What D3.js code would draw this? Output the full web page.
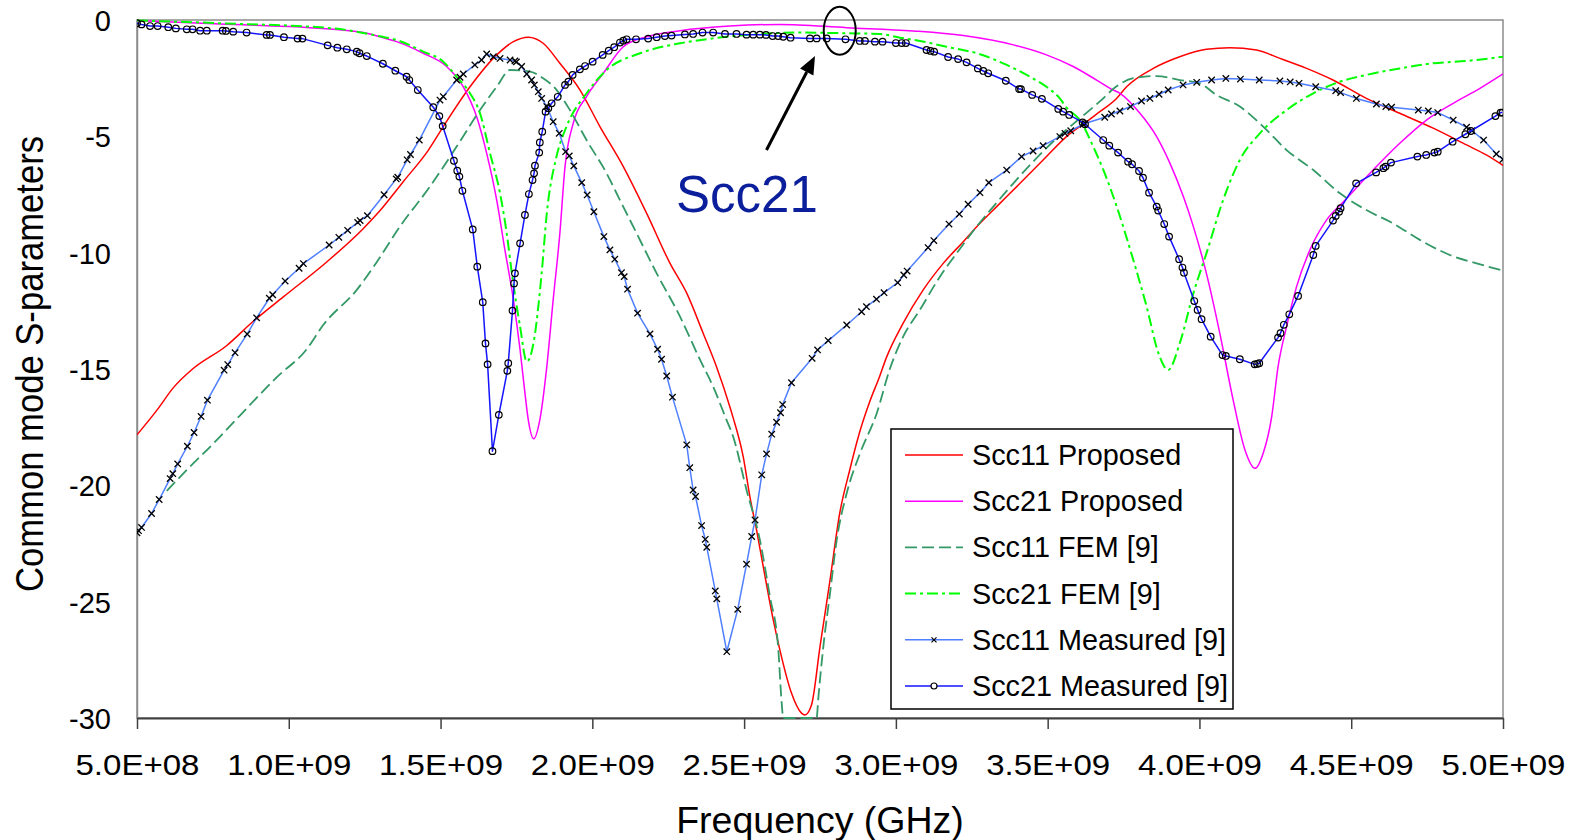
<!DOCTYPE html>
<html>
<head>
<meta charset="utf-8">
<script src="https://cdn.jsdelivr.net/npm/d3@7"></script>
<style>
  html, body { margin: 0; padding: 0; background: #ffffff; }
  svg { display: block; font-family: "Liberation Sans", Arial, sans-serif; }
</style>
</head>
<body>
<svg id="chart" width="1576" height="840"></svg>
<script>
// Frequency axis in GHz, values in dB
const xTickValues = [0.5, 1.0, 1.5, 2.0, 2.5, 3.0, 3.5, 4.0, 4.5, 5.0];
const xTickLabels = ["5.0E+08", "1.0E+09", "1.5E+09", "2.0E+09", "2.5E+09", "3.0E+09", "3.5E+09", "4.0E+09", "4.5E+09", "5.0E+09"];
const yTickValues = [0, -5, -10, -15, -20, -25, -30];
const yTickLabels = ["0", "-5", "-10", "-15", "-20", "-25", "-30"];

// Scc11 Proposed
const s11PropF = [0.5, 0.565, 0.62, 0.685, 0.795, 0.883, 0.982, 1.125, 1.245, 1.30, 1.377, 1.46, 1.509, 1.597, 1.685, 1.74, 1.789, 1.838, 1.893, 1.959, 2.025, 2.102, 2.179, 2.256, 2.311, 2.365, 2.409, 2.453, 2.464, 2.497, 2.519, 2.541, 2.563, 2.596, 2.623, 2.656, 2.689, 2.70, 2.722, 2.75, 2.783, 2.815, 2.848, 2.881, 2.914, 2.947, 2.969, 3.024, 3.09, 3.156, 3.222, 3.277, 3.332, 3.409, 3.485, 3.562, 3.628, 3.672, 3.727, 3.76, 3.848, 3.935, 4.023, 4.10, 4.188, 4.265, 4.353, 4.44, 4.55, 4.66, 4.77, 4.88, 4.945, 5.0];
const s11PropV = [-17.83, -16.78, -15.8, -14.98, -14.0, -12.95, -11.9, -10.4, -8.97, -8.2, -6.95, -5.59, -4.58, -2.87, -1.5, -0.93, -0.74, -1.0, -1.86, -3.0, -4.58, -6.3, -8.31, -10.46, -11.74, -13.46, -14.9, -16.62, -17.1, -18.77, -20.49, -21.92, -23.49, -25.78, -27.36, -28.93, -29.79, -29.87, -29.44, -26.93, -24.07, -21.2, -19.34, -17.7, -16.4, -15.3, -14.5, -13.03, -11.6, -10.46, -9.53, -8.74, -8.02, -7.02, -6.02, -5.01, -4.37, -3.94, -3.37, -2.87, -2.08, -1.58, -1.26, -1.19, -1.29, -1.65, -2.08, -2.58, -3.37, -4.01, -4.65, -5.37, -5.8, -6.25];

// Scc21 Proposed
const s21PropF = [0.5, 0.774, 1.146, 1.257, 1.30, 1.355, 1.443, 1.52, 1.575, 1.619, 1.652, 1.685, 1.712, 1.74, 1.762, 1.778, 1.789, 1.807, 1.827, 1.85, 1.871, 1.893, 1.91, 1.937, 1.981, 2.036, 2.102, 2.179, 2.289, 2.453, 2.618, 2.838, 3.057, 3.222, 3.387, 3.496, 3.584, 3.661, 3.716, 3.738, 3.804, 3.859, 3.903, 3.947, 3.98, 4.023, 4.067, 4.111, 4.15, 4.183, 4.21, 4.238, 4.259, 4.287, 4.32, 4.364, 4.419, 4.48, 4.572, 4.66, 4.748, 4.836, 4.924, 5.0];
const s21PropV = [-0.03, -0.17, -0.4, -0.57, -0.72, -0.93, -1.43, -2.0, -2.87, -4.16, -5.73, -7.74, -9.88, -12.03, -14.18, -16.04, -17.19, -18.0, -17.19, -14.9, -12.03, -9.17, -6.3, -4.44, -3.29, -2.29, -1.15, -0.72, -0.46, -0.26, -0.19, -0.33, -0.47, -0.67, -1.07, -1.5, -2.0, -2.58, -3.01, -3.15, -4.01, -5.01, -6.16, -7.59, -8.88, -10.89, -13.46, -16.33, -18.48, -19.27, -18.62, -17.05, -14.9, -13.18, -11.46, -9.88, -8.59, -7.74, -6.45, -5.3, -4.3, -3.58, -2.94, -2.32];

// Scc11 FEM [9]
const s11FemF = [0.598, 0.664, 0.751, 0.839, 0.96, 1.059, 1.114, 1.224, 1.29, 1.366, 1.465, 1.553, 1.63, 1.685, 1.729, 1.795, 1.838, 1.882, 1.926, 1.981, 2.047, 2.091, 2.146, 2.212, 2.289, 2.355, 2.398, 2.442, 2.464, 2.508, 2.552, 2.585, 2.612, 2.623, 2.629, 2.739, 2.744, 2.761, 2.783, 2.805, 2.838, 2.882, 2.937, 2.98, 3.024, 3.079, 3.145, 3.2, 3.266, 3.321, 3.387, 3.452, 3.53, 3.606, 3.672, 3.727, 3.782, 3.859, 3.935, 4.001, 4.056, 4.133, 4.21, 4.287, 4.375, 4.463, 4.55, 4.638, 4.726, 4.825, 4.913, 5.0];
const s11FemV = [-20.24, -19.34, -18.21, -17.0, -15.36, -14.15, -13.1, -11.6, -10.4, -8.88, -7.16, -5.44, -3.87, -2.87, -2.15, -2.22, -2.5, -3.0, -3.87, -5.16, -6.59, -7.74, -9.17, -10.89, -12.75, -14.61, -15.76, -17.19, -17.91, -20.2, -22.35, -24.78, -26.93, -29.22, -30, -30, -29.22, -26.93, -24.64, -22.35, -20.34, -18.62, -16.9, -15.0, -13.61, -12.46, -11.03, -10.03, -8.88, -8.02, -7.02, -6.09, -5.08, -4.23, -3.5, -2.85, -2.5, -2.41, -2.58, -2.72, -3.22, -3.72, -4.58, -5.59, -6.45, -7.45, -8.17, -8.74, -9.45, -10.1, -10.46, -10.77];

// Scc21 FEM [9]
const s21FemF = [0.5, 0.774, 1.146, 1.30, 1.355, 1.443, 1.509, 1.553, 1.597, 1.63, 1.663, 1.696, 1.718, 1.735, 1.762, 1.784, 1.806, 1.833, 1.85, 1.882, 1.915, 1.981, 2.047, 2.157, 2.289, 2.398, 2.508, 2.684, 2.838, 2.947, 3.013, 3.079, 3.167, 3.277, 3.365, 3.442, 3.496, 3.54, 3.564, 3.606, 3.65, 3.688, 3.727, 3.782, 3.826, 3.865, 3.897, 3.935, 3.98, 4.023, 4.078, 4.133, 4.199, 4.287, 4.375, 4.463, 4.55, 4.66, 4.77, 4.88, 5.0];
const s21FemV = [-0.02, -0.14, -0.36, -0.7, -0.86, -1.36, -1.79, -2.44, -3.15, -4.01, -5.73, -7.45, -9.17, -10.89, -13.18, -14.68, -13.9, -10.89, -8.31, -5.87, -4.58, -3.15, -2.15, -1.43, -1.0, -0.79, -0.64, -0.54, -0.57, -0.6, -0.76, -0.9, -1.15, -1.47, -1.93, -2.44, -2.87, -3.37, -3.79, -4.3, -5.44, -6.59, -8.0, -10.31, -12.32, -14.32, -15.04, -13.9, -11.74, -10.03, -7.74, -6.02, -4.87, -3.87, -3.15, -2.65, -2.36, -2.08, -1.86, -1.76, -1.58];

// Scc11 Measured [9]
const s11MeasF = [0.5, 0.505, 0.515, 0.548, 0.573, 0.609, 0.618, 0.634, 0.666, 0.688, 0.711, 0.732, 0.787, 0.799, 0.823, 0.863, 0.894, 0.936, 0.947, 0.988, 1.034, 1.048, 1.133, 1.165, 1.194, 1.227, 1.235, 1.259, 1.314, 1.354, 1.359, 1.39, 1.401, 1.43, 1.498, 1.509, 1.553, 1.564, 1.575, 1.613, 1.635, 1.652, 1.674, 1.696, 1.729, 1.745, 1.75, 1.767, 1.784, 1.8, 1.809, 1.822, 1.833, 1.85, 1.871, 1.891, 1.912, 1.924, 1.939, 1.965, 1.983, 2.005, 2.038, 2.058, 2.074, 2.096, 2.105, 2.116, 2.149, 2.19, 2.215, 2.228, 2.245, 2.264, 2.311, 2.321, 2.332, 2.34, 2.36, 2.372, 2.377, 2.405, 2.41, 2.443, 2.479, 2.508, 2.525, 2.536, 2.558, 2.574, 2.591, 2.607, 2.62, 2.627, 2.656, 2.724, 2.742, 2.777, 2.838, 2.887, 2.903, 2.936, 2.961, 3.006, 3.026, 3.037, 3.106, 3.125, 3.175, 3.209, 3.238, 3.277, 3.306, 3.365, 3.414, 3.452, 3.485, 3.54, 3.557, 3.576, 3.617, 3.623, 3.688, 3.71, 3.738, 3.773, 3.809, 3.837, 3.867, 3.897, 3.946, 3.991, 4.04, 4.087, 4.135, 4.197, 4.265, 4.299, 4.328, 4.383, 4.449, 4.465, 4.517, 4.583, 4.614, 4.633, 4.721, 4.754, 4.785, 4.836, 4.88, 4.898, 4.936, 4.978, 5.0];
const s11MeasV = [-22.04, -21.95, -21.81, -21.21, -20.61, -19.71, -19.5, -19.08, -18.32, -17.73, -17.04, -16.34, -15.05, -14.81, -14.3, -13.5, -12.8, -11.96, -11.81, -11.22, -10.67, -10.47, -9.67, -9.34, -9.04, -8.7, -8.62, -8.41, -7.51, -6.83, -6.76, -6.01, -5.78, -5.16, -3.44, -3.29, -2.58, -2.46, -2.32, -1.93, -1.72, -1.46, -1.58, -1.65, -1.72, -1.76, -1.8, -2.0, -2.32, -2.58, -2.79, -3.08, -3.37, -3.72, -4.37, -4.87, -5.66, -5.84, -6.27, -6.99, -7.52, -8.24, -9.31, -9.88, -10.28, -10.86, -11.03, -11.57, -12.6, -13.49, -14.15, -14.58, -15.3, -16.21, -18.26, -19.24, -20.2, -20.48, -21.73, -22.32, -22.66, -24.54, -24.88, -27.15, -25.33, -23.39, -22.2, -21.49, -19.55, -18.65, -17.8, -17.29, -16.88, -16.53, -15.59, -14.54, -14.18, -13.78, -13.11, -12.54, -12.32, -12.0, -11.72, -11.29, -10.96, -10.79, -9.78, -9.48, -8.77, -8.34, -7.92, -7.42, -6.99, -6.45, -5.87, -5.63, -5.4, -5.01, -4.87, -4.76, -4.48, -4.45, -4.18, -4.04, -3.91, -3.72, -3.48, -3.37, -3.19, -3.01, -2.79, -2.68, -2.58, -2.51, -2.54, -2.58, -2.62, -2.66, -2.72, -2.87, -3.04, -3.12, -3.37, -3.61, -3.72, -3.75, -3.87, -3.91, -3.98, -4.3, -4.61, -4.76, -5.16, -5.76, -5.99];

// Scc21 Measured [9]
const s21MeasF = [0.5, 0.515, 0.543, 0.568, 0.603, 0.628, 0.664, 0.683, 0.708, 0.73, 0.782, 0.793, 0.817, 0.861, 0.927, 0.938, 0.984, 1.029, 1.045, 1.128, 1.16, 1.191, 1.224, 1.233, 1.257, 1.31, 1.351, 1.388, 1.397, 1.425, 1.476, 1.496, 1.507, 1.544, 1.555, 1.562, 1.572, 1.606, 1.621, 1.639, 1.648, 1.655, 1.671, 1.692, 1.72, 1.723, 1.737, 1.742, 1.745, 1.762, 1.778, 1.791, 1.803, 1.808, 1.811, 1.825, 1.827, 1.835, 1.846, 1.855, 1.866, 1.886, 1.91, 1.921, 1.935, 1.959, 1.976, 2.001, 2.034, 2.054, 2.072, 2.091, 2.102, 2.113, 2.144, 2.184, 2.212, 2.239, 2.261, 2.305, 2.332, 2.363, 2.398, 2.437, 2.475, 2.508, 2.53, 2.552, 2.572, 2.594, 2.612, 2.629, 2.653, 2.717, 2.739, 2.772, 2.834, 2.881, 2.898, 2.931, 2.956, 3.0, 3.019, 3.033, 3.101, 3.114, 3.126, 3.172, 3.205, 3.233, 3.27, 3.288, 3.304, 3.362, 3.406, 3.412, 3.449, 3.481, 3.535, 3.551, 3.571, 3.615, 3.623, 3.683, 3.703, 3.732, 3.765, 3.778, 3.801, 3.814, 3.834, 3.859, 3.864, 3.884, 3.9, 3.933, 3.944, 3.949, 3.983, 3.994, 4.007, 4.037, 4.076, 4.087, 4.133, 4.182, 4.19, 4.197, 4.259, 4.267, 4.278, 4.296, 4.325, 4.375, 4.383, 4.44, 4.449, 4.46, 4.465, 4.516, 4.582, 4.606, 4.613, 4.631, 4.718, 4.747, 4.774, 4.785, 4.834, 4.876, 4.894, 4.975, 4.992, 4.998];
const s21MeasV = [-0.14, -0.19, -0.26, -0.26, -0.31, -0.36, -0.4, -0.4, -0.46, -0.46, -0.46, -0.47, -0.5, -0.54, -0.64, -0.64, -0.74, -0.8, -0.8, -1.09, -1.19, -1.26, -1.36, -1.43, -1.55, -1.88, -2.18, -2.44, -2.58, -3.01, -3.75, -4.13, -4.56, -6.05, -6.48, -6.73, -7.34, -9.0, -10.6, -12.13, -13.9, -14.8, -18.53, -16.97, -15.08, -14.75, -12.49, -11.32, -10.89, -9.6, -8.38, -7.48, -6.88, -6.59, -6.26, -5.7, -5.26, -4.8, -3.94, -3.79, -3.58, -3.3, -2.79, -2.65, -2.36, -2.12, -1.98, -1.79, -1.5, -1.32, -1.17, -0.97, -0.89, -0.83, -0.83, -0.8, -0.74, -0.69, -0.67, -0.62, -0.6, -0.54, -0.54, -0.6, -0.6, -0.63, -0.63, -0.63, -0.64, -0.69, -0.69, -0.72, -0.76, -0.79, -0.79, -0.79, -0.83, -0.9, -0.9, -0.93, -0.93, -0.99, -0.99, -0.99, -1.29, -1.33, -1.36, -1.59, -1.68, -1.82, -2.08, -2.19, -2.29, -2.61, -2.97, -2.97, -3.22, -3.39, -3.82, -3.94, -4.08, -4.4, -4.48, -5.16, -5.4, -5.7, -6.09, -6.2, -6.49, -6.78, -7.42, -8.02, -8.19, -8.77, -9.31, -10.28, -10.64, -10.86, -12.08, -12.46, -12.86, -13.61, -14.4, -14.44, -14.58, -14.8, -14.78, -14.75, -13.65, -13.46, -13.1, -12.65, -11.86, -10.1, -9.71, -8.62, -8.42, -8.24, -8.09, -7.02, -6.55, -6.37, -6.3, -6.13, -5.87, -5.8, -5.7, -5.66, -5.23, -4.91, -4.77, -4.13, -3.98, -3.98];

const seriesNames = ["Scc11 Proposed", "Scc21 Proposed", "Scc11 FEM [9]", "Scc21 FEM [9]", "Scc11 Measured [9]", "Scc21 Measured [9]"];

const series = [
  { name: seriesNames[0], f: s11PropF, v: s11PropV, color: "#ff0000", dash: null, width: 1.5, curve: d3.curveMonotoneX, marker: null },
  { name: seriesNames[1], f: s21PropF, v: s21PropV, color: "#ff00ff", dash: null, width: 1.5, curve: d3.curveMonotoneX, marker: null },
  { name: seriesNames[2], f: s11FemF, v: s11FemV, color: "#339966", dash: "12,5", width: 1.8, curve: d3.curveMonotoneX, marker: null },
  { name: seriesNames[3], f: s21FemF, v: s21FemV, color: "#00ff00", dash: "11,4,3,4", width: 2, curve: d3.curveMonotoneX, marker: null },
  { name: seriesNames[4], f: s11MeasF, v: s11MeasV, color: "#4f7fff", dash: null, width: 1.5, curve: d3.curveLinear, marker: "cross" },
  { name: seriesNames[5], f: s21MeasF, v: s21MeasV, color: "#1414ff", dash: null, width: 1.5, curve: d3.curveLinear, marker: "circle" }
];

const svg = d3.select("#chart");
const plot = { left: 137, right: 1503, top: 20, bottom: 718 };

const x = d3.scaleLinear().domain([0.5, 5.0]).range([plot.left, plot.right]);
const y = d3.scaleLinear().domain([-30, 0]).range([plot.bottom, plot.top]);

svg.append("defs").append("clipPath").attr("id", "plotClip")
  .append("rect")
  .attr("x", plot.left).attr("y", plot.top - 2)
  .attr("width", plot.right - plot.left).attr("height", plot.bottom - plot.top + 4);

// plot area frame
svg.append("rect")
  .attr("x", plot.left).attr("y", plot.top)
  .attr("width", plot.right - plot.left).attr("height", plot.bottom - plot.top)
  .attr("fill", "#ffffff").attr("stroke", "#8c8c8c").attr("stroke-width", 1.5);

// y axis labels
const yAxis = d3.axisLeft(y).tickValues(yTickValues).tickSize(0).tickPadding(26)
  .tickFormat((d, i) => yTickLabels[i]);
const yg = svg.append("g").attr("transform", `translate(${plot.left},0)`).call(yAxis);
yg.select(".domain").attr("stroke", "#8c8c8c").attr("stroke-width", 1.5);
yg.selectAll("text").attr("font-size", 29).attr("fill", "#000")
  .attr("font-family", "Liberation Sans, Arial, sans-serif").attr("dy", "0.36em");

// x axis
const xAxis = d3.axisBottom(x).tickValues(xTickValues).tickSizeInner(11).tickSizeOuter(0)
  .tickFormat((d, i) => xTickLabels[i]);
const xg = svg.append("g").attr("transform", `translate(0,${plot.bottom})`).call(xAxis);
xg.select(".domain").attr("stroke", "#404040").attr("stroke-width", 2);
xg.selectAll(".tick line").attr("stroke", "#404040").attr("stroke-width", 1.5);
xg.selectAll("text").attr("font-size", 30).attr("fill", "#000")
  .attr("font-family", "Liberation Sans, Arial, sans-serif")
  .attr("y", 57).attr("dy", 0)
  .attr("textLength", 124).attr("lengthAdjust", "spacingAndGlyphs");

// axis titles
svg.append("text")
  .attr("x", (plot.left + plot.right) / 2).attr("y", 833)
  .attr("text-anchor", "middle").attr("font-size", 37.5).attr("fill", "#000")
  .text("Frequency (GHz)");

svg.append("text")
  .attr("transform", "translate(43,364) rotate(-90)")
  .attr("text-anchor", "middle").attr("font-size", 38).attr("fill", "#000")
  .attr("textLength", 456).attr("lengthAdjust", "spacingAndGlyphs")
  .text("Common mode S-parameters");

// curves
const lines = svg.append("g").attr("clip-path", "url(#plotClip)");
series.forEach(s => {
  const pts = s.f.map((f, i) => [f, s.v[i]]);
  const gen = d3.line().x(d => x(d[0])).y(d => y(d[1])).curve(s.curve);
  lines.append("path")
    .attr("d", gen(pts))
    .attr("fill", "none")
    .attr("stroke", s.color)
    .attr("stroke-width", s.width)
    .attr("stroke-dasharray", s.dash)
    .attr("stroke-linejoin", "round");
  if (s.marker === "cross") {
    lines.append("g").selectAll("path").data(pts).join("path")
      .attr("transform", d => `translate(${x(d[0])},${y(d[1])})`)
      .attr("d", "M-3.2,-3.2L3.2,3.2M-3.2,3.2L3.2,-3.2")
      .attr("stroke", "#000").attr("stroke-width", 1.3).attr("fill", "none");
  } else if (s.marker === "circle") {
    lines.append("g").selectAll("circle").data(pts).join("circle")
      .attr("cx", d => x(d[0])).attr("cy", d => y(d[1])).attr("r", 3.3)
      .attr("stroke", "#000").attr("stroke-width", 1.2).attr("fill", "none");
  }
});

// annotation: ellipse, arrow and label
const ann = svg.append("g");
ann.append("ellipse")
  .attr("cx", x(2.815)).attr("cy", y(-0.46)).attr("rx", 16).attr("ry", 24)
  .attr("fill", "none").attr("stroke", "#000").attr("stroke-width", 2);
const tail = [766.5, 150], tip = [815, 56];
const ang = Math.atan2(tip[1] - tail[1], tip[0] - tail[0]);
const headLen = 18, headHalf = 7.5;
const base = [tip[0] - headLen * Math.cos(ang), tip[1] - headLen * Math.sin(ang)];
ann.append("line")
  .attr("x1", tail[0]).attr("y1", tail[1]).attr("x2", base[0]).attr("y2", base[1])
  .attr("stroke", "#000").attr("stroke-width", 3);
ann.append("path")
  .attr("d", `M${tip[0]},${tip[1]}L${base[0] + headHalf * Math.sin(ang)},${base[1] - headHalf * Math.cos(ang)}L${base[0] - headHalf * Math.sin(ang)},${base[1] + headHalf * Math.cos(ang)}Z`)
  .attr("fill", "#000");
ann.append("text")
  .attr("x", 676).attr("y", 212)
  .attr("font-size", 51).attr("fill", "#0b1f9c")
  .text("Scc21");

// legend
const legend = svg.append("g");
legend.append("rect")
  .attr("x", 891).attr("y", 429).attr("width", 342).attr("height", 280)
  .attr("fill", "#ffffff").attr("stroke", "#000").attr("stroke-width", 1.5);
series.forEach((s, i) => {
  const ry = 455 + i * 46.2;
  legend.append("line")
    .attr("x1", 905).attr("x2", 963).attr("y1", ry).attr("y2", ry)
    .attr("stroke", s.color).attr("stroke-width", s.width)
    .attr("stroke-dasharray", s.dash);
  if (s.marker === "cross") {
    legend.append("path")
      .attr("transform", `translate(934,${ry})`)
      .attr("d", "M-2.5,-2.5L2.5,2.5M-2.5,2.5L2.5,-2.5")
      .attr("stroke", "#000").attr("stroke-width", 1.2);
  } else if (s.marker === "circle") {
    legend.append("circle")
      .attr("cx", 934).attr("cy", ry).attr("r", 3)
      .attr("fill", "#ffffff").attr("stroke", "#000").attr("stroke-width", 1.2);
  }
  legend.append("text")
    .attr("x", 972).attr("y", ry + 10)
    .attr("font-size", 28.8).attr("fill", "#000")
    .text(s.name);
});
</script>
</body>
</html>
